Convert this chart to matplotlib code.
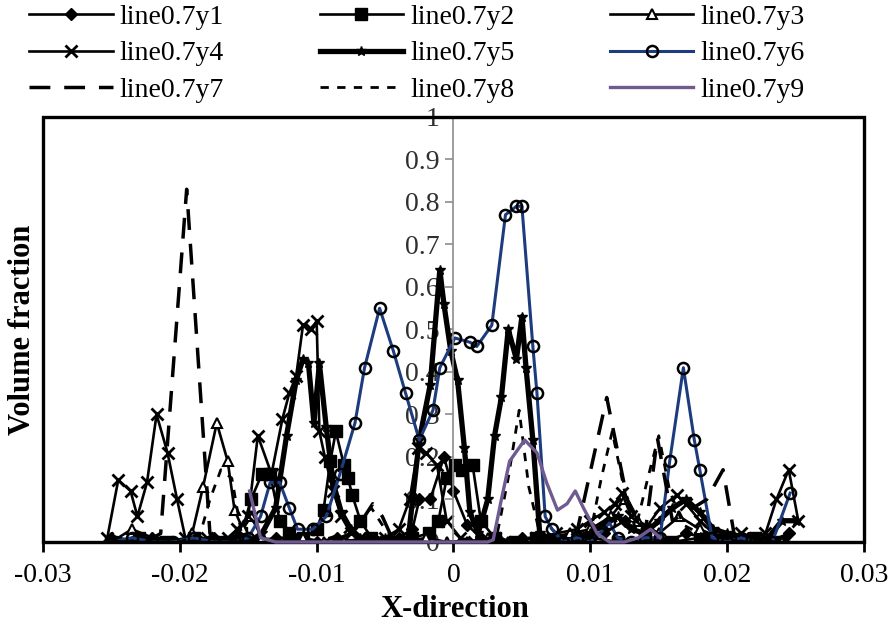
import matplotlib
matplotlib.use('Agg')
import matplotlib.pyplot as plt
from matplotlib.patches import Rectangle

plt.rcParams['font.family'] = ['Liberation Serif', 'DejaVu Serif']

# volume fraction profiles along line 0.7 (x positions in m)
x1 = [-0.0250, -0.0235, -0.0220, -0.0205, -0.0190, -0.0175, -0.0160, -0.0145, -0.0130, -0.0115,
      -0.0100, -0.0085, -0.0070, -0.0055, -0.0040, -0.0030, -0.0025, -0.0017, -0.0007, 0.0000,
      0.0010, 0.0020, 0.0035, 0.0050, 0.0065, 0.0080, 0.0095, 0.0110, 0.0125, 0.0140,
      0.0155, 0.0170, 0.0185, 0.0200, 0.0215, 0.0230, 0.0245]
y1 = [0.01, 0.00, 0.01, 0.00, 0.00, 0.01, 0.00, 0.00, 0.01, 0.00,
      0.00, 0.01, 0.00, 0.00, 0.01, 0.03, 0.10, 0.10, 0.20, 0.12,
      0.04, 0.01, 0.00, 0.01, 0.00, 0.00, 0.01, 0.02, 0.05, 0.01,
      0.00, 0.02, 0.01, 0.00, 0.01, 0.00, 0.02]

x2 = [-0.0250, -0.0230, -0.0210, -0.0190, -0.0170, -0.0155, -0.0148, -0.0140, -0.0134, -0.0127,
      -0.0120, -0.0110, -0.0100, -0.0095, -0.0090, -0.0086, -0.0080, -0.0077, -0.0074, -0.0068,
      -0.0060, -0.0045, -0.0030, -0.0018, -0.0011, -0.0005, 0.0001, 0.0006, 0.0014, 0.0020,
      0.0030, 0.0045, 0.0060, 0.0080, 0.0100, 0.0120, 0.0140, 0.0160, 0.0180, 0.0200,
      0.0220, 0.0240]
y2 = [0.00, 0.01, 0.00, 0.01, 0.00, 0.02, 0.10, 0.16, 0.16, 0.05,
      0.02, 0.01, 0.03, 0.075, 0.19, 0.26, 0.18, 0.15, 0.11, 0.05,
      0.01, 0.00, 0.01, 0.02, 0.05, 0.15, 0.18, 0.17, 0.18, 0.05,
      0.01, 0.00, 0.01, 0.00, 0.01, 0.00, 0.01, 0.00, 0.01, 0.00,
      0.01, 0.00]

x3 = [-0.0250, -0.0235, -0.0220, -0.0205, -0.0196, -0.0191, -0.0183, -0.0173, -0.0165, -0.0160,
      -0.0154, -0.0148, -0.0140, -0.0125, -0.0110, -0.0095, -0.0080, -0.0065, -0.0050, -0.0035,
      -0.0020, -0.0005, 0.0010, 0.0025, 0.0040, 0.0055, 0.0070, 0.0085, 0.0100, 0.0115,
      0.0125, 0.0135, 0.0150, 0.0165, 0.0180, 0.0195, 0.0210, 0.0225, 0.0240]
y3 = [0.00, 0.03, 0.01, 0.00, 0.00, 0.02, 0.13, 0.28, 0.19, 0.075,
      0.03, 0.06, 0.01, 0.00, 0.01, 0.00, 0.00, 0.01, 0.00, 0.00,
      0.01, 0.00, 0.00, 0.01, 0.00, 0.00, 0.01, 0.02, 0.03, 0.06,
      0.10, 0.05, 0.02, 0.06, 0.03, 0.01, 0.00, 0.01, 0.00]

x4 = [-0.0253, -0.0245, -0.0236, -0.0231, -0.0224, -0.0217, -0.0209, -0.0202, -0.0196, -0.0188,
      -0.0180, -0.0172, -0.0165, -0.0158, -0.0150, -0.0143, -0.0133, -0.0125, -0.0120, -0.0115,
      -0.0110, -0.0104, -0.0100, -0.0098, -0.0094, -0.0088, -0.0082, -0.0075, -0.0068, -0.0060,
      -0.0050, -0.0040, -0.0032, -0.0026, -0.0020, -0.0012, -0.0005, 0.0005, 0.0015, 0.0030,
      0.0045, 0.0060, 0.0075, 0.0090, 0.0100, 0.0110, 0.0118, 0.0123, 0.0130, 0.0140,
      0.0151, 0.0163, 0.0170, 0.0180, 0.0190, 0.0200, 0.0210, 0.0220, 0.0228, 0.0236,
      0.0245, 0.0252]
y4 = [0.01, 0.146, 0.12, 0.06, 0.14, 0.30, 0.21, 0.10, 0.01, 0.00,
      0.01, 0.00, 0.01, 0.03, 0.06, 0.25, 0.16, 0.29, 0.35, 0.39,
      0.51, 0.50, 0.52, 0.26, 0.20, 0.12, 0.06, 0.02, 0.01, 0.00,
      0.01, 0.03, 0.10, 0.22, 0.21, 0.18, 0.05, 0.01, 0.00, 0.01,
      0.00, 0.01, 0.02, 0.03, 0.05, 0.07, 0.09, 0.115, 0.06, 0.03,
      0.08, 0.11, 0.09, 0.05, 0.02, 0.01, 0.02, 0.01, 0.02, 0.10,
      0.17, 0.05]

x5 = [-0.0250, -0.0235, -0.0220, -0.0205, -0.0190, -0.0175, -0.0160, -0.0150, -0.0140, -0.0130,
      -0.0122, -0.0115, -0.0110, -0.0106, -0.0102, -0.0098, -0.0093, -0.0088, -0.0082, -0.0075,
      -0.0068, -0.0060, -0.0050, -0.0040, -0.0033, -0.0025, -0.0017, -0.0010, -0.0007, -0.0002,
      0.0003, 0.0008, 0.0012, 0.0018, 0.0025, 0.0030, 0.0035, 0.0040, 0.0046, 0.0050,
      0.0053, 0.0058, 0.0063, 0.0070, 0.0080, 0.0090, 0.0100, 0.0110, 0.0120, 0.0130,
      0.0140, 0.0150, 0.0160, 0.0170, 0.0180, 0.0190, 0.0200, 0.0210, 0.0220, 0.0230,
      0.0240, 0.0250]
y5 = [0.01, 0.00, 0.01, 0.00, 0.01, 0.00, 0.01, 0.00, 0.02, 0.08,
      0.25, 0.38, 0.43, 0.42, 0.28, 0.42, 0.27, 0.14, 0.07, 0.03,
      0.01, 0.00, 0.01, 0.00, 0.01, 0.24, 0.37, 0.64, 0.56, 0.45,
      0.38, 0.22, 0.07, 0.02, 0.10, 0.25, 0.34, 0.50, 0.43, 0.53,
      0.41, 0.24, 0.02, 0.01, 0.00, 0.01, 0.02, 0.04, 0.06, 0.03,
      0.02, 0.05, 0.08, 0.10, 0.07, 0.03, 0.02, 0.01, 0.00, 0.01,
      0.05, 0.05]

x6 = [-0.0250, -0.0235, -0.0220, -0.0205, -0.0190, -0.0175, -0.0160, -0.0150, -0.0141, -0.0134,
      -0.0127, -0.0120, -0.0114, -0.0103, -0.0093, -0.0083, -0.0072, -0.0065, -0.0054, -0.0044,
      -0.0035, -0.0025, -0.0015, -0.0010, 0.0001, 0.0012, 0.0017, 0.0028, 0.0038, 0.0046,
      0.0050, 0.0058, 0.0061, 0.0067, 0.0072, 0.0080, 0.0090, 0.0100, 0.0107, 0.0114,
      0.0120, 0.0130, 0.0140, 0.0151, 0.0158, 0.0168, 0.0176, 0.0180, 0.0189, 0.0200,
      0.0210, 0.0220, 0.0233, 0.0246]
y6 = [0.00, 0.01, 0.00, 0.00, 0.01, 0.00, 0.00, 0.01, 0.06, 0.14,
      0.14, 0.08, 0.03, 0.03, 0.06, 0.16, 0.28, 0.41, 0.55, 0.45,
      0.35, 0.24, 0.31, 0.41, 0.48, 0.47, 0.46, 0.51, 0.77, 0.79,
      0.79, 0.46, 0.35, 0.06, 0.03, 0.00, 0.01, 0.00, 0.02, 0.045,
      0.01, 0.00, 0.01, 0.01, 0.19, 0.41, 0.24, 0.17, 0.01, 0.00,
      0.01, 0.00, 0.00, 0.115]

x7 = [-0.0250, -0.0225, -0.0214, -0.0195, -0.0178, -0.0165, -0.0150, -0.0130, -0.0110, -0.0090,
      -0.0075, -0.0065, -0.0059, -0.0052, -0.0045, -0.0030, -0.0010, 0.0010, 0.0030, 0.0050,
      0.0070, 0.0090, 0.0112, 0.0127, 0.0140, 0.0149, 0.0160, 0.0175, 0.0185, 0.0197,
      0.0205, 0.0220, 0.0240]
y7 = [0.00, 0.00, 0.02, 0.83, 0.02, 0.00, 0.00, 0.00, 0.00, 0.00,
      0.02, 0.06, 0.09, 0.06, 0.01, 0.00, 0.00, 0.00, 0.00, 0.00,
      0.00, 0.02, 0.34, 0.10, 0.02, 0.245, 0.05, 0.08, 0.10, 0.17,
      0.02, 0.00, 0.00]

x8 = [-0.0250, -0.0200, -0.0185, -0.0178, -0.0170, -0.0162, -0.0155, -0.0140, -0.0120, -0.0100,
      -0.0080, -0.0070, -0.0060, -0.0050, -0.0040, -0.0020, 0.0000, 0.0020, 0.0032, 0.0040,
      0.0048, 0.0055, 0.0063, 0.0075, 0.0090, 0.0100, 0.0108, 0.0116, 0.0125, 0.0133,
      0.0142, 0.0150, 0.0158, 0.0168, 0.0180, 0.0195, 0.0210, 0.0230, 0.0250]
y8 = [0.00, 0.00, 0.02, 0.10, 0.17, 0.15, 0.02, 0.00, 0.00, 0.00,
      0.02, 0.05, 0.08, 0.03, 0.00, 0.00, 0.00, 0.00, 0.02, 0.15,
      0.31, 0.13, 0.02, 0.00, 0.00, 0.02, 0.15, 0.26, 0.12, 0.03,
      0.15, 0.25, 0.12, 0.04, 0.02, 0.01, 0.00, 0.00, 0.00]

x9 = [-0.0149, -0.0141, -0.0130, -0.0100, -0.0050, 0.0000, 0.0025, 0.0029, 0.0035, 0.0041,
      0.0052, 0.0061, 0.0068, 0.0076, 0.0083, 0.0089, 0.0095, 0.0105, 0.0114, 0.0125,
      0.0135, 0.0144, 0.0151]
y9 = [0.12, 0.01, 0.00, 0.00, 0.00, 0.00, 0.00, 0.005, 0.10, 0.19,
      0.24, 0.21, 0.14, 0.075, 0.09, 0.12, 0.08, 0.02, 0.00, 0.00,
      0.01, 0.03, 0.01]

labels = ['line0.7y1', 'line0.7y2', 'line0.7y3', 'line0.7y4', 'line0.7y5',
          'line0.7y6', 'line0.7y7', 'line0.7y8', 'line0.7y9']
x_ticks = [-0.03, -0.02, -0.01, 0, 0.01, 0.02, 0.03]
x_tick_labels = ['-0.03', '-0.02', '-0.01', '0', '0.01', '0.02', '0.03']
y_ticks = [0, 0.1, 0.2, 0.3, 0.4, 0.5, 0.6, 0.7, 0.8, 0.9, 1]
y_tick_labels = ['0', '0.1', '0.2', '0.3', '0.4', '0.5', '0.6', '0.7', '0.8', '0.9', '1']

navy = '#1d3c7e'
purple = '#6f5b8f'

fig = plt.figure(figsize=(8.92, 6.3), dpi=100)
ax = fig.add_axes([0.0482, 0.1397, 0.9204, 0.6746])

h = {}
h[1], = ax.plot(x1, y1, color='black', lw=1.9, marker='D', ms=6, label=labels[0])
h[2], = ax.plot(x2, y2, color='black', lw=1.9, marker='s', ms=8, label=labels[1])
h[3], = ax.plot(x3, y3, color='black', lw=1.9, marker='^', ms=7, mfc='white', mew=1.5, label=labels[2])
h[4], = ax.plot(x4, y4, color='black', lw=1.9, marker='x', ms=8, mew=2, label=labels[3])
h[5], = ax.plot(x5, y5, color='black', lw=3.8, marker='*', ms=7, label=labels[4])
h[6], = ax.plot(x6, y6, color=navy, lw=2.2, marker='o', ms=8, mfc='none', mec='black', mew=1.8,
                label=labels[5])
h[7], = ax.plot(x7, y7, color='black', lw=2.5, ls=(0, (6, 4)), label=labels[6])
h[8], = ax.plot(x8, y8, color='black', lw=2, ls=(0, (3, 3)), label=labels[7])
h[9], = ax.plot(x9, y9, color=purple, lw=2.4, solid_joinstyle='round', clip_on=False,
                label=labels[8], zorder=6)

ax.set_xlim(-0.03, 0.03)
ax.set_ylim(0, 1)

# y axis runs through x = 0, the box is drawn separately
ax.spines['left'].set_position(('data', 0))
ax.spines['left'].set_color('#8c8c8c')
ax.spines['left'].set_linewidth(1.2)
ax.spines['right'].set_visible(False)
ax.spines['top'].set_visible(False)
ax.spines['bottom'].set_linewidth(2.2)
ax.add_patch(Rectangle((0, 0), 1, 1, transform=ax.transAxes, fill=False,
                       lw=2.4, edgecolor='black', clip_on=False, zorder=5))

ax.set_xticks(x_ticks)
ax.set_xticklabels(x_tick_labels)
ax.set_yticks(y_ticks)
ax.set_yticklabels(y_tick_labels)
ax.tick_params(axis='x', direction='out', length=7, width=2, labelsize=20, pad=8)
ax.tick_params(axis='y', direction='out', length=6, width=1.2, color='#8c8c8c',
               labelsize=20, labelcolor='#303030', pad=4)

fig.text(0.510, 0.032, 'X-direction', ha='center', va='center', fontsize=22, fontweight='bold')
fig.text(0.025, 0.476, 'Volume fraction', ha='center', va='center', rotation=90,
         fontsize=22, fontweight='bold')

order = [1, 4, 7, 2, 5, 8, 3, 6, 9]
fig.legend([h[i] for i in order], [labels[i - 1] for i in order], loc='upper left',
           bbox_to_anchor=(0.033, 0.993), ncol=3, frameon=False, fontsize=20,
           handlelength=3.0, handletextpad=0.25, columnspacing=3.45, labelspacing=0.4,
           borderpad=0, borderaxespad=0, numpoints=1)

fig.savefig('out.png', dpi=100)
